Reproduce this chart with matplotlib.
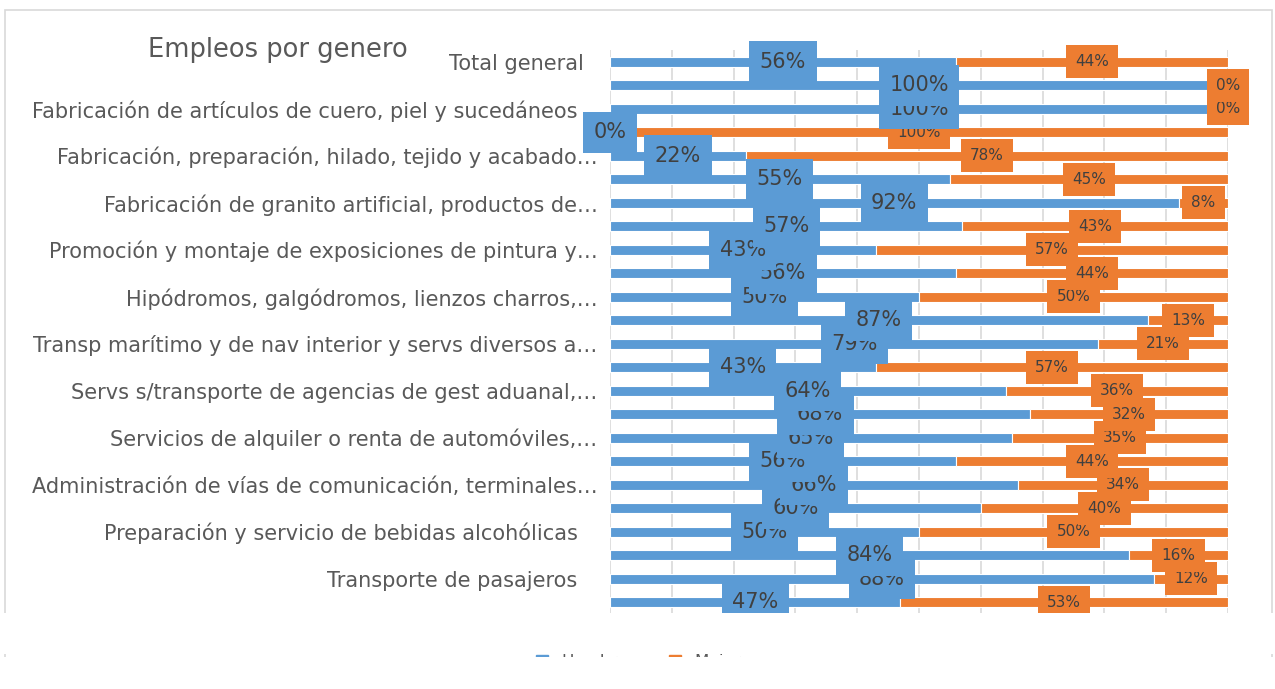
import numpy as np
import matplotlib.pyplot as plt
from matplotlib.patches import Rectangle, Patch

# porcentaje de empleos por genero, de arriba hacia abajo
hombres = [56, 100, 100, 0, 22, 55, 92, 57, 43, 56, 50, 87,
           79, 43, 64, 68, 65, 56, 66, 60, 50, 84, 88, 47]
mujeres = [44, 0, 0, 100, 78, 45, 8, 43, 57, 44, 50, 13,
           21, 57, 36, 32, 35, 44, 34, 40, 50, 16, 12, 53]
# solo se ve la etiqueta de una fila de cada dos
etiquetas = [
    "Total general  ", "",
    "Fabricación de artículos de cuero, piel y sucedáneos   ", "",
    "Fabricación, preparación, hilado, tejido y acabado…", "",
    "Fabricación de granito artificial, productos de…", "",
    "Promoción y montaje de exposiciones de pintura y…", "",
    "Hipódromos, galgódromos, lienzos charros,…", "",
    "Transp marítimo y de nav interior y servs diversos a…", "",
    "Servs s/transporte de agencias de gest aduanal,…", "",
    "Servicios de alquiler o renta de automóviles,…", "",
    "Administración de vías de comunicación, terminales…", "",
    "Preparación y servicio de bebidas alcohólicas   ", "",
    "Transporte de pasajeros   ", "",
]
series = ["Hombres", "Mujeres"]
titulo = "Empleos por genero"

azul = "#5B9BD5"
naranja = "#ED7D31"
gris = "#595959"
num_font = ["Liberation Sans Narrow", "DejaVu Sans"]

W, H = 1275, 689
fig = plt.figure(figsize=(W / 100, H / 100), dpi=100)
ax = fig.add_axes([610 / W, 1 - 614 / H, 618 / W, 564 / H])

y = np.arange(len(hombres))
h = np.array(hombres)
m = np.array(mujeres)
ax.barh(y, h, height=0.42, color=azul, edgecolor="white", linewidth=0.8, zorder=2)
ax.barh(y, m, left=h, height=0.42, color=naranja, edgecolor="white", linewidth=0.8, zorder=2)

ax.set_xlim(0, 100)
ax.set_ylim(len(y) - 0.5, -0.5)
ax.set_xticks(np.arange(0, 101, 10))
ax.xaxis.grid(True, color="#d9d9d9", linewidth=1.2)
ax.set_axisbelow(True)
ax.tick_params(axis="x", length=0, labelbottom=False)
ax.set_yticks(y)
ax.set_yticklabels(etiquetas, fontsize=15, color=gris)
ax.tick_params(axis="y", length=0, pad=9)
for s in ax.spines.values():
    s.set_visible(False)

# etiquetas de datos, las filas de arriba quedan encima
for i in range(len(y)):
    ax.text(h[i] / 2, i, f"{h[i]}%", ha="center", va="center", fontsize=15,
            family=num_font, color="#404040", zorder=60 - i,
            bbox=dict(boxstyle="square,pad=0.5", fc=azul, ec="none"))
    ax.text(h[i] + m[i] / 2, i, f"{m[i]}%", ha="center", va="center", fontsize=11,
            family=num_font, color="#404040", zorder=60 - i,
            bbox=dict(boxstyle="square,pad=0.6", fc=naranja, ec="none"))

fig.text(148 / W, 1 - 50 / H, titulo, fontsize=18.5, color=gris, va="center", ha="left")

# borde del area del grafico
fig.add_artist(Rectangle((5 / W, 0), 1267 / W, 1 - 10 / H, transform=fig.transFigure,
                         fill=False, ec="#d9d9d9", lw=1.2, zorder=1))

handles = [Patch(color=azul), Patch(color=naranja)]
fig.legend(handles, series, loc="center", bbox_to_anchor=(0.508, 1 - 662 / H),
           ncol=2, frameon=False, fontsize=12, handlelength=0.7, handleheight=0.7,
           labelcolor=gris)

# la imagen original viene recortada abajo
fig.add_artist(Rectangle((0, 1 - 654 / H), 1, 41 / H, transform=fig.transFigure,
                         fc="white", ec="none", zorder=30))
fig.add_artist(Rectangle((0, 0), 1, 1 - 657 / H, transform=fig.transFigure,
                         fc="white", ec="none", zorder=30))

fig.savefig("out.png", dpi=100)
